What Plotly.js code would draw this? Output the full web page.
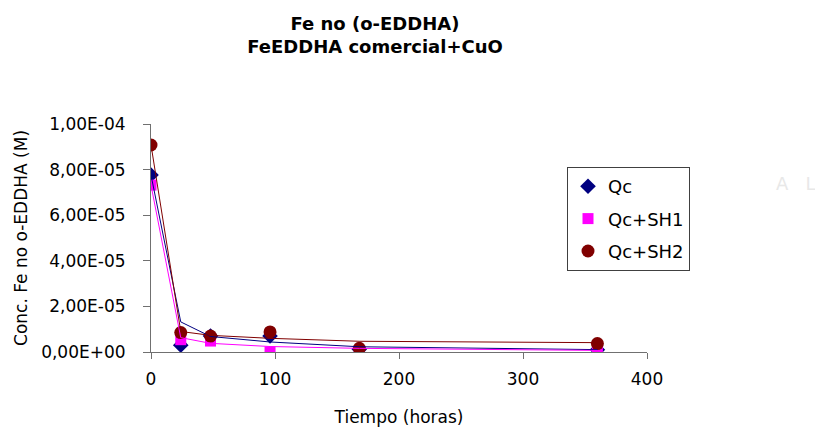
<!DOCTYPE html>
<html>
<head>
<meta charset="utf-8">
<script src="https://cdn.plot.ly/plotly-3.0.1.min.js"></script>
<style>html,body{margin:0;padding:0;background:#fff;}#chart{width:815px;height:427px;}</style>
</head>
<body>
<div id="chart"></div>
<script>
// Sampling times (hours)
const tiempo = [0, 24, 48, 96, 168, 360];
// Marker values (M)
const qc    = [7.76e-5, 3.0e-6, 7.0e-6, 7.0e-6, 1.2e-6, 1.0e-6];
const qcSH1 = [7.32e-5, 5.4e-6, 4.8e-6, 0.0, 0.0, 0.0];
const qcSH2 = [9.08e-5, 8.5e-6, 7.0e-6, 8.8e-6, 1.6e-6, 3.7e-6];
// Connecting line values (M)
const qcLine    = [7.76e-5, 1.32e-5, 6.8e-6, 4.4e-6, 2.3e-6, 1.05e-6];
const qcSH1Line = [7.32e-5, 6.3e-6, 3.8e-6, 2.4e-6, 1.6e-6, 0.7e-6];
const qcSH2Line = [9.08e-5, 9.0e-6, 7.3e-6, 6.0e-6, 4.7e-6, 4.1e-6];
// Tick labels
const yTickVals = [0, 2e-5, 4e-5, 6e-5, 8e-5, 1e-4];
const yTickText = ["0,00E+00", "2,00E-05", "4,00E-05", "6,00E-05", "8,00E-05", "1,00E-04"];
const xTickVals = [0, 100, 200, 300, 400];
const xTickText = ["0", "100", "200", "300", "400"];

const navy = "#000080", magenta = "#FF00FF", darkred = "#800000";
const FONT = "DejaVu Sans, Liberation Sans, Arial, sans-serif";

const traces = [
  {x: tiempo, y: qc, name: "Qc", mode: "markers", type: "scatter", legendgroup: "a",
   marker: {symbol: "diamond", size: 12, color: navy}},
  {x: tiempo, y: qcSH1, name: "Qc+SH1", mode: "markers", type: "scatter", legendgroup: "b",
   marker: {symbol: "square", size: 11, color: magenta}},
  {x: tiempo, y: qcSH2, name: "Qc+SH2", mode: "markers", type: "scatter", legendgroup: "c",
   marker: {symbol: "circle", size: 13, color: darkred}},
  {x: tiempo, y: qcLine, mode: "lines", type: "scatter", showlegend: false,
   line: {color: navy, width: 1}},
  {x: tiempo, y: qcSH1Line, mode: "lines", type: "scatter", showlegend: false,
   line: {color: magenta, width: 1}},
  {x: tiempo, y: qcSH2Line, mode: "lines", type: "scatter", showlegend: false,
   line: {color: darkred, width: 1}}
];

const L = 151, R = 168, T = 124, B = 75;
const plotW = 815 - L - R, plotH = 427 - T - B;

const layout = {
  width: 815, height: 427,
  paper_bgcolor: "#ffffff", plot_bgcolor: "#ffffff",
  font: {family: FONT, color: "#000000", size: 17},
  margin: {l: L, r: R, t: T, b: B, pad: 0},
  title: {text: "<b>Fe no (o-EDDHA)<br>FeEDDHA comercial+CuO</b>",
          font: {size: 18, family: FONT},
          x: (375 - L) / plotW, xref: "paper", xanchor: "center",
          y: 0.93, yref: "container", yanchor: "top"},
  xaxis: {range: [0, 400], tickvals: xTickVals, ticktext: xTickText,
          showgrid: false, zeroline: false, showline: true, linecolor: "#707070", linewidth: 1,
          ticks: "outside", ticklen: 6, tickcolor: "#707070", ticklabelstandoff: 6,
          tickfont: {size: 17},
          title: {text: "Tiempo (horas)", font: {size: 17}, standoff: 22}},
  yaxis: {range: [0, 1e-4], tickvals: yTickVals, ticktext: yTickText,
          showgrid: false, zeroline: false, showline: true, linecolor: "#707070", linewidth: 1,
          ticks: "outside", ticklen: 7, tickcolor: "#707070", ticklabelstandoff: 14,
          tickfont: {size: 17},
          title: {text: "Conc. Fe no o-EDDHA (M)", font: {size: 17}, standoff: 9}},
  showlegend: true,
  legend: {x: (567 - L) / plotW, y: 1 - (167 - T) / plotH, xanchor: "left", yanchor: "top",
           bordercolor: "#404040", borderwidth: 1, bgcolor: "#ffffff",
           font: {size: 18, family: FONT}, itemwidth: 30, tracegroupgap: 6},
  annotations: [
    {text: "A   L", xref: "paper", yref: "paper", x: (796 - L) / plotW, y: 1 - (183 - T) / plotH,
     xanchor: "center", yanchor: "middle",
     showarrow: false, font: {size: 18, color: "#e8e8e8", family: FONT}}
  ]
};

Plotly.newPlot("chart", traces, layout, {displayModeBar: false, staticPlot: true});
</script>
</body>
</html>
